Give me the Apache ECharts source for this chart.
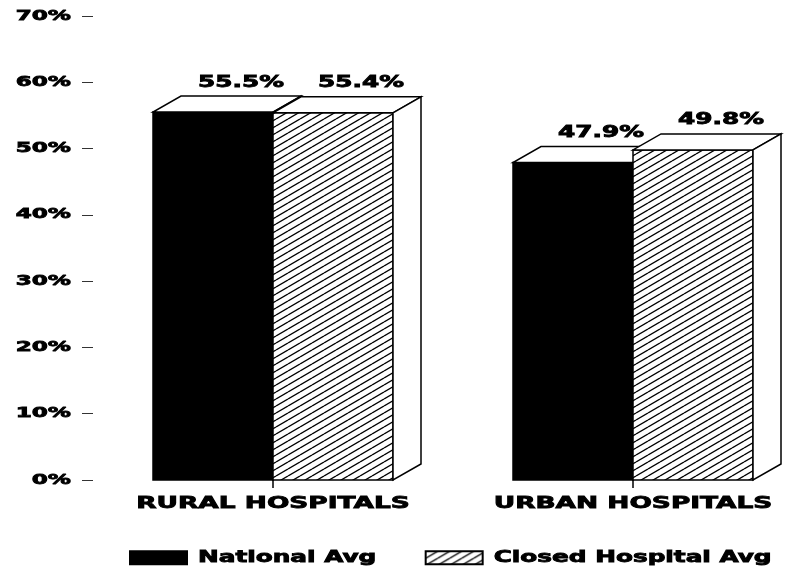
<!DOCTYPE html>
<html>
<head>
<meta charset="utf-8">
<script src="https://cdn.jsdelivr.net/npm/echarts@6/dist/echarts.min.js"></script>
<style>html,body{margin:0;padding:0;background:#fff;}#chart{width:785px;height:575px;}</style>
</head>
<body>
<div id="chart"></div>
<script>
// ---- data ----
const categories = ['RURAL HOSPITALS', 'URBAN HOSPITALS'];
const seriesNames = ['National Avg', 'Closed Hospital Avg'];
const nationalAvg = [55.5, 47.9];
const closedHospitalAvg = [55.4, 49.8];
const yMin = 0, yMax = 70, yStep = 10;

// ---- wide (extended) lettering like the original typeface ----
(function () {
  const P = CanvasRenderingContext2D.prototype;
  const SX = 1.65;
  const origFill = P.fillText, origStroke = P.strokeText, origMeasure = P.measureText;
  function wrap(orig) {
    return function (t, x, y) {
      this.save();
      this.translate(x, y);
      this.scale(SX, 1);
      orig.call(this, t, 0, 0);
      this.restore();
    };
  }
  P.fillText = wrap(origFill);
  P.strokeText = wrap(origStroke);
  P.measureText = function (t) {
    const r = origMeasure.call(this, t);
    return {
      width: r.width * SX,
      actualBoundingBoxLeft: r.actualBoundingBoxLeft * SX,
      actualBoundingBoxRight: r.actualBoundingBoxRight * SX,
      actualBoundingBoxAscent: r.actualBoundingBoxAscent,
      actualBoundingBoxDescent: r.actualBoundingBoxDescent,
      fontBoundingBoxAscent: r.fontBoundingBoxAscent,
      fontBoundingBoxDescent: r.fontBoundingBoxDescent
    };
  };
})();

const FONT = '"DejaVu Sans", "Liberation Sans", sans-serif';
const HEAVY = { textBorderColor: '#000', textBorderWidth: 0.8 };

function makeHatch() {
  const W = 12, H = 7;
  const c = document.createElement('canvas');
  c.width = W; c.height = H;
  const g = c.getContext('2d');
  g.fillStyle = '#fff';
  g.fillRect(0, 0, W, H);
  g.strokeStyle = '#000';
  g.lineWidth = 1.3;
  g.beginPath();
  [-H, 0, H].forEach(function (off) { g.moveTo(0, H + off); g.lineTo(W, off); });
  g.stroke();
  return c;
}
const hatch = { image: makeHatch(), repeat: 'repeat' };

const DX = 28, DY = -16;

function makeRender(side, fill) {
  return function (params, api) {
    const cat = api.value(0), val = api.value(1);
    const top = api.coord([cat, val]);
    const base = api.coord([cat, 0]);
    const band = api.size([1, 0])[0];
    const w = band / 3;
    const x0 = side === 0 ? top[0] - w : top[0];
    const x1 = x0 + w;
    const yt = top[1], yb = base[1];
    const stroke = { stroke: '#000', lineWidth: 1.5 };
    return {
      type: 'group',
      children: [
        { type: 'rect', shape: { x: x0, y: yt, width: w, height: yb - yt },
          style: Object.assign({ fill: fill }, stroke) },
        { type: 'polygon', shape: { points: [[x0, yt], [x1, yt], [x1 + DX, yt + DY], [x0 + DX, yt + DY]] },
          style: Object.assign({ fill: '#fff' }, stroke) },
        { type: 'polygon', shape: { points: [[x1, yt], [x1 + DX, yt + DY], [x1 + DX, yb + DY], [x1, yb]] },
          style: Object.assign({ fill: '#fff' }, stroke) },
        { type: 'text',
          style: { text: val.toFixed(1) + '%', x: (x0 + x1) / 2 + DX, y: yt + DY - 1,
                   align: 'center', verticalAlign: 'bottom',
                   textAlign: 'center', textVerticalAlign: 'bottom',
                   font: 'bold 15px ' + FONT, fill: '#000', stroke: '#000', lineWidth: 0.8 } }
      ]
    };
  };
}

const chart = echarts.init(document.getElementById('chart'), null, { renderer: 'canvas' });
chart.setOption({
  animation: false,
  backgroundColor: '#fff',
  grid: { left: 93, top: 16, width: 720, bottom: 95, containLabel: false, outerBoundsMode: 'none' },
  legend: {
    data: seriesNames,
    left: 129, top: 545,
    padding: 0,
    icon: 'rect',
    itemWidth: 57, itemHeight: 13, itemGap: 48,
    selectedMode: false,
    textStyle: Object.assign({ fontFamily: FONT, fontWeight: 'bold', fontSize: 15, color: '#000', padding: [0, 0, 0, 6] }, HEAVY)
  },
  xAxis: {
    type: 'category',
    data: categories,
    axisLine: { show: false },
    axisTick: { show: true, alignWithLabel: true, length: 8, lineStyle: { color: '#000', width: 1.5 } },
    axisLabel: Object.assign({ interval: 0, margin: 11, fontFamily: FONT, fontWeight: 'bold', fontSize: 16, color: '#000' }, HEAVY),
    splitLine: { show: false }
  },
  yAxis: {
    type: 'value',
    min: yMin, max: yMax, interval: yStep,
    axisLine: { show: false },
    axisTick: { show: true, length: 11, lineStyle: { color: '#333', width: 1 } },
    axisLabel: Object.assign({ margin: 22, formatter: '{value}%', fontFamily: FONT, fontWeight: 'bold', fontSize: 14, color: '#000' }, HEAVY),
    splitLine: { show: false }
  },
  series: [
    {
      name: seriesNames[0], type: 'custom', z: 2,
      itemStyle: { color: '#000', borderColor: '#000', borderWidth: 1 },
      renderItem: makeRender(0, '#000'),
      encode: { x: 0, y: 1 },
      data: nationalAvg.map(function (v, i) { return [i, v]; })
    },
    {
      name: seriesNames[1], type: 'custom', z: 3,
      itemStyle: { color: hatch, borderColor: '#000', borderWidth: 1.5 },
      renderItem: makeRender(1, hatch),
      encode: { x: 0, y: 1 },
      data: closedHospitalAvg.map(function (v, i) { return [i, v]; })
    }
  ]
});
</script>
</body>
</html>
